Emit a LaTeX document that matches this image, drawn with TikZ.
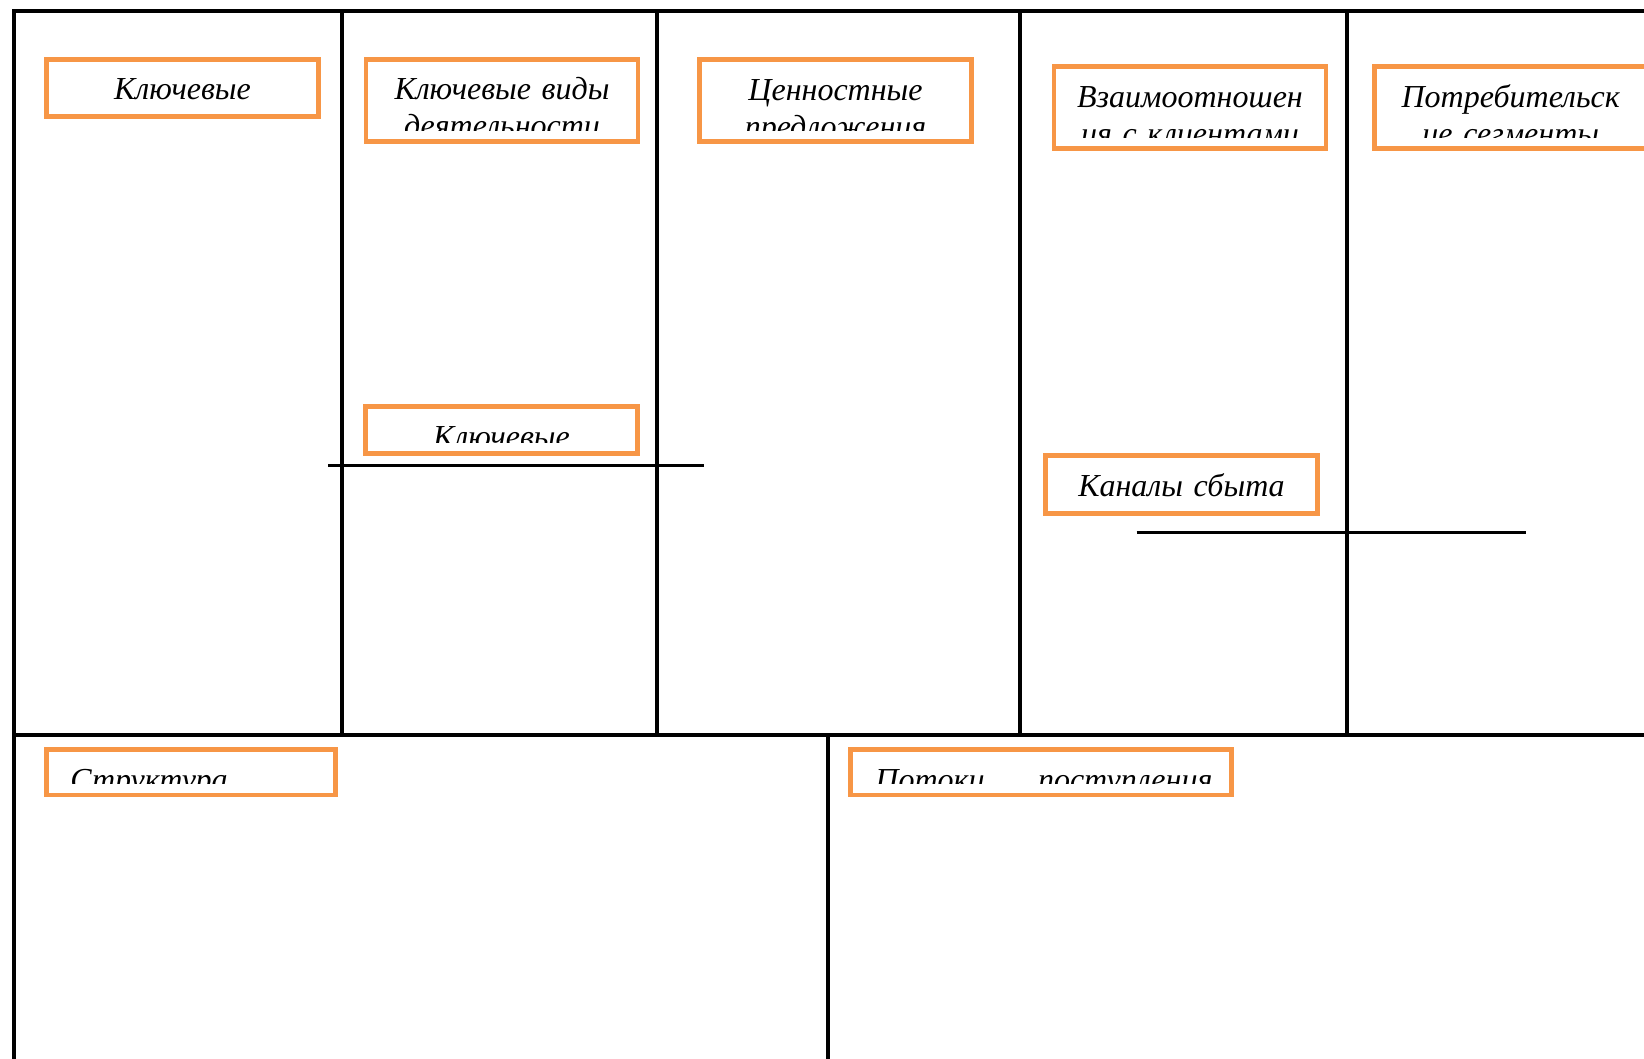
\documentclass[tikz,border=0pt]{standalone}
\usepackage{fontspec}
\setmainfont{Liberation Serif}
\definecolor{canvasorange}{HTML}{F79646}
\begin{document}
\begin{tikzpicture}[x=1pt,y=-1pt]

      \tikzset{grid/.style={draw, line width=3.5pt, black},
               lbl/.style={draw=canvasorange, line width=4.5pt, rectangle, inner sep=0pt, minimum width=272pt},
               title/.style={font=\itshape\fontsize{32}{37}\selectfont, inner sep=0pt, anchor=base},
               ctitle/.style={title, text width=262pt, align=center}}
      \useasboundingbox (0,0) rectangle (1644,1058);
%% Frame
      \draw[grid] (1660,11) -- (14,11) -- (14,1070);
      \draw[grid] (14,735) -- (1660,735);
      \foreach \x in {342,657,1020,1347} \draw[grid] (\x,11) -- (\x,735);
      \draw[grid] (828,735) -- (828,1070);
      \draw[grid] (328,465.5) -- (703.5,465.5);
      \draw[grid] (1136.6,532.6) -- (1525.6,532.6);
%% Headings
      \node[lbl, minimum height=57pt] (kp) at (182.5,87.8) {};
      \begin{scope}
        \clip ([shift={(8,6)}]kp.north west) rectangle ([shift={(-8,-13.5)}]kp.south east);
        \node[ctitle] (kptext) at ([shift={(0,42.5)}]kp.north) {Ключевые};
      \end{scope}
      \node[lbl, minimum height=82pt] (ka) at (502,100.5) {};
      \begin{scope}
        \clip ([shift={(8,6)}]ka.north west) rectangle ([shift={(-8,-13.5)}]ka.south east);
        \node[ctitle] (katext) at ([shift={(0,42.5)}]ka.north) {Ключевые виды\\деятельности};
      \end{scope}
      \node[lbl, minimum height=82pt] (vp) at (835.5,100.5) {};
      \begin{scope}
        \clip ([shift={(8,6)}]vp.north west) rectangle ([shift={(-8,-13.5)}]vp.south east);
        \node[ctitle] (vptext) at ([shift={(0,43)}]vp.north) {Ценностные\\предложения};
      \end{scope}
      \node[lbl, minimum height=82pt] (cr) at (1190,107.5) {};
      \begin{scope}
        \clip ([shift={(8,6)}]cr.north west) rectangle ([shift={(-8,-13.5)}]cr.south east);
        \node[ctitle] (crtext) at ([shift={(0,43)}]cr.north) {Взаимоотношен\\ия с клиентами};
      \end{scope}
      \node[lbl, minimum height=82pt] (cs) at (1510.7,107.5) {};
      \begin{scope}
        \clip ([shift={(8,6)}]cs.north west) rectangle ([shift={(-8,-13.5)}]cs.south east);
        \node[ctitle] (cstext) at ([shift={(0,43)}]cs.north) {Потребительск\\ие сегменты};
      \end{scope}
      \node[lbl, minimum height=47pt] (kr) at (501.5,430) {};
      \begin{scope}
        \clip ([shift={(8,6)}]kr.north west) rectangle ([shift={(-8,-13.5)}]kr.south east);
        \node[ctitle] (krtext) at ([shift={(0,43)}]kr.north) {Ключевые};
      \end{scope}
      \node[lbl, minimum height=58pt] (ch) at (1181.5,484.5) {};
      \begin{scope}
        \clip ([shift={(8,6)}]ch.north west) rectangle ([shift={(-8,-13.5)}]ch.south east);
        \node[ctitle] (chtext) at ([shift={(0,43)}]ch.north) {Каналы сбыта};
      \end{scope}
%% Bottom row
      \node[lbl, minimum width=289pt, minimum height=45.5pt] (cost) at (190.8,772) {};
      \begin{scope}
        \clip ([shift={(8,6)}]cost.north west) rectangle ([shift={(-8,-14)}]cost.south east);
        \node[title, anchor=base west] (costtext) at ([shift={(26,43)}]cost.north west) {Структура};
      \end{scope}
      \node[lbl, minimum width=381pt, minimum height=45.5pt] (rev) at (1041,772) {};
      \begin{scope}
        \clip ([shift={(8,6)}]rev.north west) rectangle ([shift={(-8,-14)}]rev.south east);
        \node[title, anchor=base west] (revtext) at ([shift={(27,43)}]rev.north west) {\hbox to 337pt{Потоки\hfil поступления}};
      \end{scope}

	\end{tikzpicture}
\end{document}
